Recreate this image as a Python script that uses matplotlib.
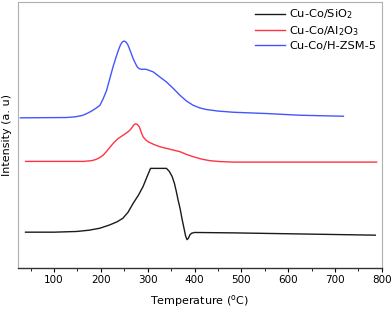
import numpy as np
import matplotlib
matplotlib.use("Agg")
import matplotlib.pyplot as plt
import matplotlib.ticker as ticker

plt.rcParams.update({"font.family": "DejaVu Sans", "font.size": 7})

# H2-TPR traces (temperature in C, intensity a.u.)
T_sio2 = [39, 100, 148, 175, 198, 219, 235, 247, 258, 269, 280, 290, 298, 306, 340, 346, 352, 357,
          361, 365, 369, 373, 377, 381, 384, 387, 390, 394, 400, 483, 786]
I_sio2 = [36, 36, 36.7, 38, 40, 43.3, 46.5, 50, 56, 65, 73, 81.7, 91, 100, 100, 97, 92, 85,
          77, 68, 60, 50, 41, 32, 28.5, 30, 33.3, 35, 35.7, 35.3, 33]

T_al2o3 = [39, 162, 180, 190, 198, 205, 212, 219, 228, 237, 245, 253, 260, 265, 270, 274, 278, 282,
           286, 290, 296, 301, 313, 326, 345, 369, 383, 397, 415, 433, 455, 483, 789]
I_al2o3 = [107, 107, 107.7, 109, 111, 113.3, 117, 121, 126, 130, 132.5, 135, 137.5, 140, 143.5, 144.7, 144, 141.7,
           136.5, 131.7, 128.5, 126.7, 124, 121.7, 119.5, 116.7, 114, 111.7, 109.3, 107.7, 106.8, 106.3, 106.3]

T_zsm5 = [28, 126, 145, 160, 170, 180, 190, 198, 205, 212, 219, 226, 232, 237, 241, 245, 249, 253, 257,
          261, 265, 269, 274, 278, 282, 287, 292, 297, 302, 312, 325, 340, 355, 369, 383, 397, 412, 426,
          450, 483, 554, 625, 718]
I_zsm5 = [150.7, 151, 151.7, 153, 155, 157.5, 160.5, 163.3, 170, 178, 190, 202, 211, 218, 223, 226.5, 227.7, 227, 224.5,
          220, 215, 210, 205, 201.5, 200, 199.3, 199.5, 199.3, 198.5, 196.7, 192, 186.7, 180, 173.3, 167.5, 163.3, 160.5, 159,
          157.5, 156.3, 155, 153.3, 152.3]

labels = ["Cu-Co/SiO$_2$", "Cu-Co/Al$_2$O$_3$", "Cu-Co/H-ZSM-5"]
colors = ["#1a1a1a", "#ff3344", "#4455ff"]

fig = plt.figure(figsize=(3.92, 3.15), dpi=100)
ax = fig.add_axes([0.046, 0.149, 0.928, 0.845])

for T, I, lab, c in zip([T_sio2, T_al2o3, T_zsm5], [I_sio2, I_al2o3, I_zsm5], labels, colors):
    ax.plot(T, I, color=c, lw=1.0, label=lab)

ax.set_xlim(23, 800)
ax.set_ylim(0, 267)
ax.set_yticks([])
ax.xaxis.set_major_locator(ticker.MultipleLocator(100))
ax.xaxis.set_minor_locator(ticker.MultipleLocator(50))
ax.tick_params(axis="x", which="major", length=3, width=0.8, pad=2, labelsize=7.5)
ax.tick_params(axis="x", which="minor", length=2, width=0.6)
for s in ["top", "right", "left"]:
    ax.spines[s].set_color("#b0b0b0")
ax.spines["bottom"].set_color("#333333")
ax.spines["bottom"].set_linewidth(1.0)

ax.set_xlabel("Temperature ($^{\\rm o}$C)", fontsize=8, labelpad=6)
ax.set_ylabel("Intensity (a. u)", fontsize=8, labelpad=4)

ax.legend(loc="upper right", frameon=False, fontsize=8.2, handlelength=2.6,
          handletextpad=0.4, labelspacing=0.25, borderaxespad=0.1)

fig.savefig("out.png", dpi=100)
